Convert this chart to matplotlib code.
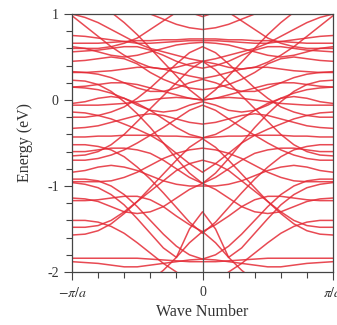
import numpy as np
import matplotlib
matplotlib.use("Agg")
import matplotlib.pyplot as plt
from matplotlib.ticker import MultipleLocator, FixedLocator

plt.rcParams['font.family'] = ['Liberation Serif', 'DejaVu Serif']
plt.rcParams['mathtext.fontset'] = 'stix'

# half Brillouin zone, k in units of pi/a (bands are symmetric about k=0)
k_half = [0.0, 0.1, 0.2, 0.3, 0.4, 0.5, 0.6, 0.7, 0.8, 0.9, 1.0]

# band energies (eV) read at k_half
bands = [
    [0.97, 1.02, 1.10, 1.20, 1.30, 1.40, 1.50, 1.60, 1.70, 1.80, 1.90],
    [1.15, 1.10, 1.02, 0.92, 0.82, 0.72, 0.66, 0.62, 0.60, 0.60, 0.60],
    [0.71, 0.71, 0.70, 0.70, 0.69, 0.69, 0.68, 0.67, 0.66, 0.66, 0.66],
    [0.69, 0.69, 0.68, 0.67, 0.66, 0.66, 0.68, 0.70, 0.72, 0.74, 0.75],
    [0.67, 0.66, 0.64, 0.60, 0.56, 0.52, 0.50, 0.52, 0.56, 0.60, 0.62],
    [0.45, 0.48, 0.52, 0.56, 0.60, 0.66, 0.74, 0.82, 0.90, 0.96, 1.00],
    [0.45, 0.42, 0.38, 0.36, 0.38, 0.44, 0.52, 0.62, 0.74, 0.86, 0.98],
    [0.82, 0.84, 0.88, 0.94, 1.00, 1.06, 1.12, 1.18, 1.24, 1.30, 1.36],
    [0.37, 0.40, 0.45, 0.52, 0.58, 0.62, 0.62, 0.60, 0.58, 0.57, 0.56],
    [0.25, 0.28, 0.32, 0.36, 0.38, 0.38, 0.36, 0.34, 0.33, 0.32, 0.32],
    [0.24, 0.20, 0.14, 0.10, 0.10, 0.14, 0.20, 0.26, 0.30, 0.32, 0.33],
    [0.12, 0.14, 0.18, 0.24, 0.32, 0.42, 0.48, 0.50, 0.48, 0.46, 0.45],
    [0.00, 0.02, 0.06, 0.10, 0.14, 0.18, 0.20, 0.20, 0.18, 0.16, 0.15],
    [-0.02, -0.06, -0.12, -0.14, -0.12, -0.06, 0.02, 0.08, 0.12, 0.14, 0.15],
    [0.00, 0.02, 0.03, 0.02, 0.00, -0.02, -0.04, -0.05, -0.06, -0.06, -0.06],
    [-0.28, -0.26, -0.22, -0.18, -0.16, -0.18, -0.22, -0.26, -0.30, -0.32, -0.33],
    [-0.44, -0.43, -0.42, -0.42, -0.41, -0.41, -0.41, -0.42, -0.42, -0.43, -0.43],
    [-0.44, -0.40, -0.32, -0.22, -0.12, -0.04, 0.02, 0.04, 0.02, -0.02, -0.04],
    [-0.06, -0.12, -0.22, -0.32, -0.41, -0.50, -0.58, -0.64, -0.68, -0.70, -0.70],
    [-0.84, -0.74, -0.62, -0.50, -0.41, -0.34, -0.28, -0.22, -0.18, -0.15, -0.14],
    [-0.56, -0.58, -0.62, -0.68, -0.76, -0.84, -0.90, -0.94, -0.95, -0.95, -0.95],
    [-0.97, -0.90, -0.80, -0.70, -0.62, -0.58, -0.56, -0.56, -0.58, -0.60, -0.60],
    [-0.97, -1.04, -1.14, -1.24, -1.30, -1.32, -1.30, -1.24, -1.18, -1.15, -1.14],
    [-1.30, -1.50, -1.83, -1.72, -1.55, -1.38, -1.22, -1.10, -1.02, -0.98, -0.96],
    [-1.53, -1.66, -1.83, -1.98, -2.10, -2.20, -2.30, -2.40, -2.50, -2.60, -2.70],
    [-1.85, -1.86, -1.88, -1.90, -1.92, -1.94, -1.94, -1.92, -1.90, -1.89, -1.88],
    [-1.88, -1.88, -1.87, -1.86, -1.85, -1.84, -1.84, -1.84, -1.84, -1.84, -1.84],
    [-2.20, -2.10, -2.00, -1.90, -1.78, -1.66, -1.55, -1.47, -1.42, -1.40, -1.40],
    [-1.53, -1.45, -1.35, -1.24, -1.16, -1.12, -1.12, -1.14, -1.16, -1.17, -1.17],
    [-0.70, -0.74, -0.82, -0.94, -1.06, -1.18, -1.30, -1.40, -1.46, -1.48, -1.48],
    [-1.00, -1.00, -0.98, -0.94, -0.88, -0.82, -0.78, -0.76, -0.78, -0.82, -0.84],
    # steep bands
    [0.45, 0.35, 0.20, 0.05, -0.10, -0.25, -0.40, -0.52, -0.60, -0.64, -0.65],
    [-0.45, -0.55, -0.70, -0.86, -1.02, -1.18, -1.32, -1.44, -1.52, -1.56, -1.57],
    [0.00, 0.12, 0.28, 0.44, 0.60, 0.76, 0.90, 1.02, 1.12, 1.20, 1.24],
    [-0.97, -0.85, -0.68, -0.50, -0.32, -0.16, -0.02, 0.10, 0.18, 0.22, 0.23],
    [-1.55, -1.42, -1.25, -1.08, -0.92, -0.78, -0.66, -0.58, -0.54, -0.52, -0.52],
    [0.62, 0.55, 0.42, 0.28, 0.14, 0.02, -0.08, -0.14, -0.18, -0.20, -0.20],
    [-1.85, -1.80, -1.70, -1.56, -1.40, -1.24, -1.10, -1.00, -0.94, -0.92, -0.92],
]

k = np.array(k_half)
k_full = np.concatenate([-k[::-1], k[1:]])

fig = plt.figure(figsize=(3.37, 3.25), dpi=100)
ax = fig.add_axes([72 / 337, 1 - 272 / 325, 261 / 337, 258 / 325])

for b in bands:
    e = np.array(b)
    e_full = np.concatenate([e[::-1], e[1:]])
    ax.plot(k_full, e_full, color='#e42a35', lw=1.1, alpha=0.85)

ax.axvline(0, color='#555555', lw=0.9)
ax.set_xlim(-1, 1)
ax.set_ylim(-2, 1)

ax.xaxis.set_major_locator(FixedLocator([-1, 0, 1]))
ax.set_xticklabels([r'$-\pi/a$', '0', r'$\pi/a$'])
ax.xaxis.set_minor_locator(MultipleLocator(0.2))
ax.yaxis.set_minor_locator(MultipleLocator(0.2))
ax.set_yticks([-2, -1, 0, 1])
ax.set_yticklabels(['-2', '-1', '0', '1'])
ax.tick_params(which='both', direction='out', color='#444444', width=0.8,
               labelsize=10, labelcolor='#333333')
ax.tick_params(which='major', length=6)
ax.tick_params(which='minor', length=4)
ax.tick_params(axis='x', pad=4)

for s in ax.spines.values():
    s.set_color('#444444')
    s.set_linewidth(0.9)

ax.set_xlabel('Wave Number', fontsize=11.5, color='#333333', labelpad=3)
ax.set_ylabel('Energy (eV)', fontsize=11.5, color='#333333', labelpad=10)

fig.savefig('out.png', dpi=100)
